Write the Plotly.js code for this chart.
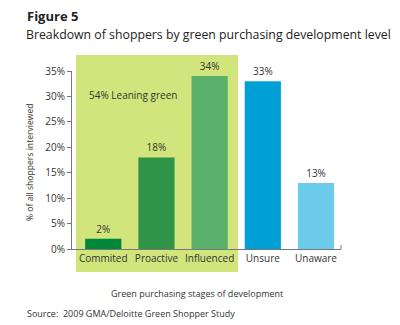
<!DOCTYPE html>
<html>
<head>
<meta charset="utf-8">
<script src="https://cdn.plot.ly/plotly-3.0.1.min.js"></script>
<style>html,body{margin:0;padding:0;background:#fff;}#chart{width:400px;height:325px;}</style>
</head>
<body>
<div id="chart"></div>
<script>
var categories = ["Commited", "Proactive", "Influenced", "Unsure", "Unaware"];
var values = [2, 18, 34, 33, 13];
var barColors = ["#00873a", "#2f9447", "#5bb06b", "#00a0d6", "#6ccbea"];
var yTickVals = [0, 5, 10, 15, 20, 25, 30, 35];
var yTickText = ["0%", "5%", "10%", "15%", "20%", "25%", "30%", "35%"];
var groupNote = "54% Leaning green";

var font = "Open Sans, Noto Sans, sans-serif";

var trace = {
  type: "bar",
  x: categories,
  y: values,
  marker: {color: barColors, line: {width: 0}},
  width: 0.68,
  text: values.map(function(v){return v + "%";}),
  textposition: "outside",
  cliponaxis: false,
  textfont: {family: font, size: 10, color: "#333"},
  hoverinfo: "none"
};

var layout = {
  width: 400, height: 325,
  margin: {l: 72, r: 59, t: 71, b: 76},
  paper_bgcolor: "#fff",
  plot_bgcolor: "rgba(0,0,0,0)",
  showlegend: false,
  font: {family: font, size: 10, color: "#333"},
  xaxis: {
    type: "category",
    range: [-0.588, 4.47],
    showline: true, linecolor: "#777", linewidth: 1,
    ticks: "", showgrid: false, zeroline: false,
    tickfont: {family: font, size: 10, color: "#333"},
    fixedrange: true
  },
  yaxis: {
    range: [0, 35],
    tickvals: yTickVals, ticktext: yTickText,
    showline: true, linecolor: "#777", linewidth: 1,
    ticks: "outside", ticklen: 4, tickcolor: "#777",
    showgrid: false, zeroline: false,
    tickfont: {family: font, size: 10, color: "#333"},
    fixedrange: true
  },
  shapes: [
    {type: "rect", xref: "paper", yref: "paper", x0: 0.0149, x1: 0.617, y0: -0.129, y1: 1.09,
     fillcolor: "#d1e57c", line: {width: 0}, layer: "below"},
    {type: "line", xref: "paper", yref: "paper", x0: 1, x1: 1, y0: 0, y1: 0.022,
     line: {color: "#777", width: 1}}
  ],
  annotations: [
    {text: "<b>Figure 5</b>", xref: "paper", yref: "paper", x: (25-72)/269, y: (249-16)/178,
     xanchor: "left", yanchor: "middle", showarrow: false, font: {family: font, size: 13, color: "#222"}},
    {text: "Breakdown of shoppers by green purchasing development level", xref: "paper", yref: "paper",
     x: (24-72)/269, y: (249-35)/178, xanchor: "left", yanchor: "middle", showarrow: false,
     font: {family: font, size: 12.3, color: "#222"}},
    {text: "% of all shoppers interviewed", xref: "paper", yref: "paper", x: (30-72)/269, y: (249-162)/178,
     xanchor: "center", yanchor: "middle", textangle: -90, showarrow: false,
     font: {family: font, size: 8.6, color: "#333"}},
    {text: groupNote, xref: "paper", yref: "paper", x: (87-72)/269, y: (249-95)/178,
     xanchor: "left", yanchor: "middle", showarrow: false, font: {family: font, size: 10, color: "#333"}},
    {text: "Green purchasing stages of development", xref: "paper", yref: "paper", x: (197-72)/269, y: (249-293)/178,
     xanchor: "center", yanchor: "middle", showarrow: false, font: {family: font, size: 9, color: "#333"}},
    {text: "Source:  2009 GMA/Deloitte Green Shopper Study", xref: "paper", yref: "paper", x: (25-72)/269, y: (249-313)/178,
     xanchor: "left", yanchor: "middle", showarrow: false, font: {family: font, size: 9, color: "#333"}}
  ]
};

Plotly.newPlot("chart", [trace], layout, {displayModeBar: false, staticPlot: true});
</script>
</body>
</html>
